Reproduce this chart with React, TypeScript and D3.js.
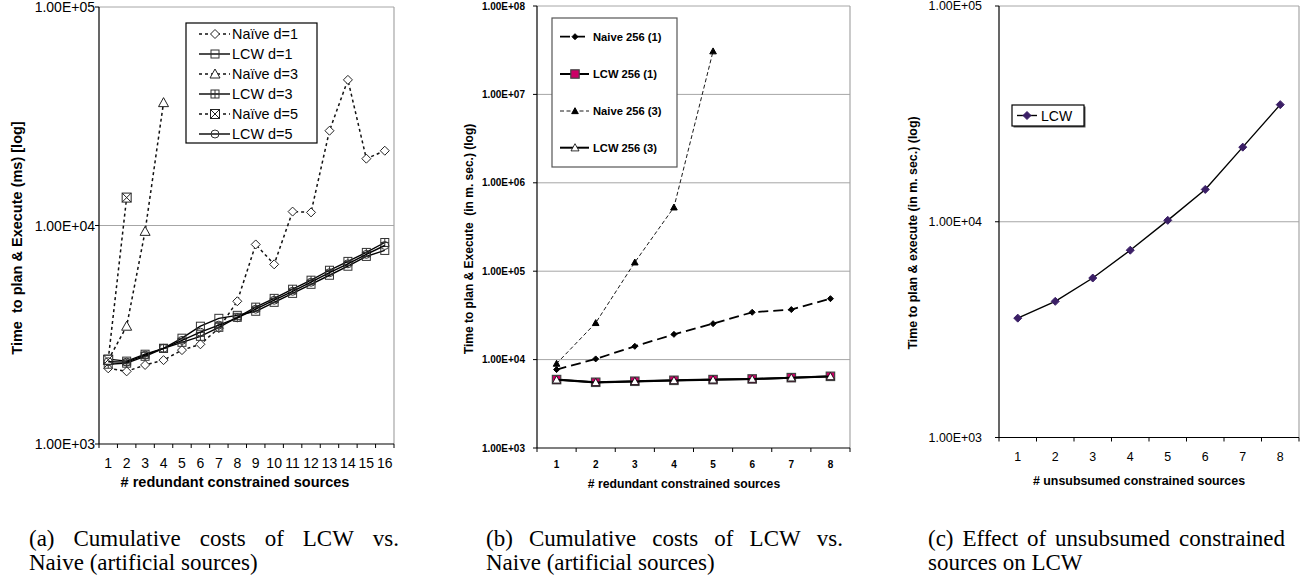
import React, { useLayoutEffect, useRef } from "react";
import * as d3 from "d3";

// ---------- data ----------
const catsA = [1, 2, 3, 4, 5, 6, 7, 8, 9, 10, 11, 12, 13, 14, 15, 16];
const naiveD1 = [2220, 2150, 2300, 2420, 2690, 2860, 3390, 4500, 8190, 6640, 11580, 11480, 27150, 46400, 20220, 21990];
const naiveD3 = [2420, 3460, 9400, 36500];
const naiveD5 = [2430, 13420];
const lcwD1 = [2445, 2395, 2576, 2740, 3050, 3460, 3760, 3880, 4050, 4450, 4890, 5380, 5920, 6510, 7220, 7690];
const lcwD3 = [2318, 2344, 2520, 2740, 2920, 3110, 3420, 3800, 4230, 4640, 5110, 5620, 6240, 6850, 7530, 8360];
const lcwD5 = [2380, 2370, 2550, 2740, 2980, 3250, 3500, 3780, 4140, 4550, 5000, 5500, 6080, 6680, 7380, 8100];

const catsB = [1, 2, 3, 4, 5, 6, 7, 8];
const naive256_1 = [7710, 10180, 14130, 19300, 25500, 34300, 36800, 48900];
const naive256_3 = [9010, 26000, 126000, 528000, 30800000];
const lcw256_1 = [5940, 5540, 5690, 5830, 5940, 6040, 6250, 6470];
const lcw256_3 = [5900, 5520, 5670, 5810, 5920, 6020, 6230, 6450];

const catsC = [1, 2, 3, 4, 5, 6, 7, 8];
const lcwC = [3575, 4277, 5485, 7380, 10150, 14120, 22170, 34900];

const ticksA = [1e3, 1e4, 1e5];
const ticksB = [1e3, 1e4, 1e5, 1e6, 1e7, 1e8];
const ticksC = [1e3, 1e4, 1e5];

const legendA = ["Naïve d=1", "LCW d=1", "Naïve d=3", "LCW d=3", "Naïve d=5", "LCW d=5"];
const legendB = ["Naive 256 (1)", "LCW 256 (1)", "Naive 256 (3)", "LCW 256 (3)"];
const legendC = ["LCW"];

const SANS = "'Liberation Sans', Arial, Helvetica, sans-serif";
const SERIF = "'Liberation Serif', 'Times New Roman', Times, serif";
const GRID = "#a6a6a6";
const MAGENTA = "#cc0066";
const PURPLE = "#3b1f66";

const fmtE = (v: number) => {
  const e = Math.round(Math.log10(v));
  return "1.00E+" + String(e).padStart(2, "0");
};

type MType = "diamond" | "square" | "squarePlus" | "squareX" | "circle" | "triangle";

function Marker({ t, cx, cy, s, fill, stroke, sw = 1 }: { t: MType; cx: number; cy: number; s: number; fill: string; stroke: string; sw?: number }) {
  if (t === "diamond")
    return <path d={`M${cx},${cy - s}L${cx + s},${cy}L${cx},${cy + s}L${cx - s},${cy}Z`} fill={fill} stroke={stroke} strokeWidth={sw} />;
  if (t === "circle") return <circle cx={cx} cy={cy} r={s} fill={fill} stroke={stroke} strokeWidth={sw} />;
  if (t === "triangle")
    return <path d={`M${cx},${cy - s}L${cx + s},${cy + s * 0.8}L${cx - s},${cy + s * 0.8}Z`} fill={fill} stroke={stroke} strokeWidth={sw} />;
  const r = <rect x={cx - s} y={cy - s} width={2 * s} height={2 * s} fill={fill} stroke={stroke} strokeWidth={sw} />;
  if (t === "square") return r;
  if (t === "squarePlus")
    return (
      <g>
        {r}
        <path d={`M${cx - s},${cy}H${cx + s}M${cx},${cy - s}V${cy + s}`} stroke={stroke} strokeWidth={sw} />
      </g>
    );
  return (
    <g>
      {r}
      <path d={`M${cx - s},${cy - s}L${cx + s},${cy + s}M${cx + s},${cy - s}L${cx - s},${cy + s}`} stroke={stroke} strokeWidth={sw} />
    </g>
  );
}

function Justified({ words, x0, x1, y, style }: { words: string[]; x0: number; x1: number; y: number; style: any }) {
  const ref = useRef<SVGGElement>(null);
  useLayoutEffect(() => {
    const g = ref.current;
    if (!g) return;
    const texts = Array.from(g.querySelectorAll("text")) as SVGTextElement[];
    const widths = texts.map((t) => t.getComputedTextLength());
    const total = widths.reduce((a, b) => a + b, 0);
    const gap = (x1 - x0 - total) / Math.max(1, texts.length - 1);
    let x = x0;
    texts.forEach((t, i) => {
      t.setAttribute("x", String(x));
      x += widths[i] + gap;
    });
  }, []);
  return (
    <g ref={ref}>
      {words.map((w, i) => (
        <text key={i} x={x0} y={y} style={style}>
          {w}
        </text>
      ))}
    </g>
  );
}

type Series = { values: number[]; marker: MType; ms: number; mfill: string; mstroke: string; msw?: number; dash?: string; lw: number; lcolor: string };

function Panel(props: {
  L: number; R: number; T: number; B: number; cats: number[]; ymax: number; ticks: number[];
  series: Series[]; tickFont: any; tickRight: number; xLabelY: number; yTickLen: number;
  gridAll: boolean;
}) {
  const { L, R, T, B, cats, ymax, ticks, series, tickFont, tickRight, xLabelY, yTickLen } = props;
  const x = d3.scaleBand<number>().domain(cats).range([L, R]).padding(0);
  const y = d3.scaleLog().domain([1e3, ymax]).range([B, T]);
  const cx = (c: number) => (x(c) as number) + x.bandwidth() / 2;
  const bounds = cats.map((c) => x(c) as number).concat([R]);
  return (
    <g>
      {ticks.filter((t) => t > 1e3).map((t) => (
        <line key={"g" + t} x1={L} x2={R} y1={y(t)} y2={y(t)} stroke={GRID} strokeWidth={1} />
      ))}
      <line x1={R} x2={R} y1={T} y2={B} stroke={GRID} strokeWidth={1.2} />
      <line x1={L} x2={L} y1={T} y2={B} stroke="#000" strokeWidth={1.2} />
      <line x1={L} x2={R} y1={B} y2={B} stroke="#000" strokeWidth={1.2} />
      {ticks.map((t) => (
        <g key={"t" + t}>
          <line x1={L - yTickLen} x2={L} y1={y(t)} y2={y(t)} stroke="#000" />
          <text x={tickRight} y={y(t)} textAnchor="end" dominantBaseline="central" style={tickFont}>
            {fmtE(t)}
          </text>
        </g>
      ))}
      {bounds.map((b, i) => (
        <line key={"xt" + i} x1={b} x2={b} y1={B} y2={B + 4} stroke="#000" />
      ))}
      {cats.map((c) => (
        <text key={"xl" + c} x={cx(c)} y={xLabelY} textAnchor="middle" dominantBaseline="central" style={tickFont}>
          {c}
        </text>
      ))}
      {series.map((s, i) => {
        const line = d3
          .line<number>()
          .x((_, j) => cx(cats[j]))
          .y((v) => y(v));
        return (
          <g key={"s" + i}>
            <path d={line(s.values) || ""} fill="none" stroke={s.lcolor} strokeWidth={s.lw} strokeDasharray={s.dash} />
            {s.values.map((v, j) => (
              <Marker key={j} t={s.marker} cx={cx(cats[j])} cy={y(v)} s={s.ms} fill={s.mfill} stroke={s.mstroke} sw={s.msw} />
            ))}
          </g>
        );
      })}
    </g>
  );
}

function Legend(props: { x0: number; x1: number; y0: number; y1: number; rows: number[]; labels: string[]; series: Series[]; sx0: number; sx1: number; mx: number; tx: number; font: any; boxStroke: string; shadow?: boolean }) {
  const { x0, x1, y0, y1, rows, labels, series, sx0, sx1, mx, tx, font, boxStroke, shadow } = props;
  return (
    <g>
      {shadow && <rect x={x0 + 1.5} y={y0 + 1.5} width={x1 - x0} height={y1 - y0} fill="#555" />}
      <rect x={x0} y={y0} width={x1 - x0} height={y1 - y0} fill="#fff" stroke={boxStroke} strokeWidth={1.2} />
      {labels.map((l, i) => {
        const s = series[i];
        return (
          <g key={i}>
            <line x1={sx0} x2={sx1} y1={rows[i]} y2={rows[i]} stroke={s.lcolor} strokeWidth={s.lw} strokeDasharray={s.dash} />
            <Marker t={s.marker} cx={mx} cy={rows[i]} s={s.ms} fill={s.mfill} stroke={s.mstroke} sw={s.msw} />
            <text x={tx} y={rows[i]} dominantBaseline="central" style={font}>
              {l}
            </text>
          </g>
        );
      })}
    </g>
  );
}

export default function App() {
  const dotted = "3,3";
  const seriesA: Series[] = [
    { values: naiveD1, marker: "diamond", ms: 4.5, mfill: "#fff", mstroke: "#222", dash: dotted, lw: 1.5, lcolor: "#111" },
    { values: lcwD1, marker: "square", ms: 4, mfill: "none", mstroke: "#333", lw: 1.4, lcolor: "#000" },
    { values: naiveD3, marker: "triangle", ms: 5, mfill: "#fff", mstroke: "#222", dash: dotted, lw: 1.5, lcolor: "#111" },
    { values: lcwD3, marker: "squarePlus", ms: 4, mfill: "none", mstroke: "#333", lw: 1.4, lcolor: "#000" },
    { values: naiveD5, marker: "squareX", ms: 4.5, mfill: "#fff", mstroke: "#222", dash: dotted, lw: 1.5, lcolor: "#111" },
    { values: lcwD5, marker: "circle", ms: 4, mfill: "none", mstroke: "#333", lw: 1.4, lcolor: "#000" },
  ];
  const seriesB: Series[] = [
    { values: naive256_1, marker: "diamond", ms: 3, mfill: "#000", mstroke: "#000", dash: "10,5", lw: 1.8, lcolor: "#000" },
    { values: lcw256_1, marker: "square", ms: 4.2, mfill: MAGENTA, mstroke: "#444", msw: 1.2, lw: 2, lcolor: "#000" },
    { values: naive256_3, marker: "triangle", ms: 3.3, mfill: "#000", mstroke: "#000", dash: "4,2.5", lw: 0.9, lcolor: "#000" },
    { values: lcw256_3, marker: "triangle", ms: 4, mfill: "#fff", mstroke: "#000", msw: 0.8, lw: 2, lcolor: "#000" },
  ];
  const seriesC: Series[] = [
    { values: lcwC, marker: "diamond", ms: 4, mfill: PURPLE, mstroke: PURPLE, lw: 1.4, lcolor: "#000" },
  ];

  const fA = { fontFamily: SANS, fontSize: "14px", fill: "#000" };
  const fB = { fontFamily: SANS, fontSize: "10px", fontWeight: "bold", fill: "#000" };
  const fC = { fontFamily: SANS, fontSize: "12.4px", fill: "#000" };
  const cap = { fontFamily: SERIF, fontSize: "23px", fill: "#000" };

  return (
    <svg width={1304} height={577} style={{ position: "absolute", left: 0, top: 0, background: "#fff" }}>
      <rect x={0} y={0} width={1304} height={577} fill="#fff" />
      {/* Panel A */}
      <Panel L={99} R={394} T={7} B={444} cats={catsA} ymax={1e5} ticks={ticksA} series={seriesA} tickFont={fA} tickRight={95} xLabelY={463} yTickLen={4} gridAll={false} />
      <Legend x0={186} x1={317} y0={23} y1={143} rows={[34, 54, 74, 94, 114, 134]} labels={legendA} series={seriesA} sx0={199} sx1={230} mx={215} tx={232} font={{ fontFamily: SANS, fontSize: "14.4px", fill: "#000" }} boxStroke="#000" />
      <text transform="translate(17,238) rotate(-90)" textAnchor="middle" dominantBaseline="central" style={{ fontFamily: SANS, fontSize: "14.5px", fontWeight: "bold", whiteSpace: "pre" }}>
        {"Time  to plan & Execute (ms) [log]"}
      </text>
      <text x={235} y={482} textAnchor="middle" dominantBaseline="central" style={{ fontFamily: SANS, fontSize: "14.5px", fontWeight: "bold" }}>
        # redundant constrained sources
      </text>

      {/* Panel B */}
      <Panel L={537} R={850} T={6} B={448} cats={catsB} ymax={1e8} ticks={ticksB} series={seriesB} tickFont={fB} tickRight={525} xLabelY={464} yTickLen={4} gridAll={true} />
      <Legend x0={552} x1={677} y0={18} y1={167} rows={[36.7, 74, 111, 147.7]} labels={legendB} series={seriesB} sx0={560} sx1={589} mx={575} tx={593} font={{ fontFamily: SANS, fontSize: "11.2px", fontWeight: "bold", fill: "#000" }} boxStroke="#555" />
      <text transform="translate(469,239) rotate(-90)" textAnchor="middle" dominantBaseline="central" style={{ fontFamily: SANS, fontSize: "12px", fontWeight: "bold", whiteSpace: "pre" }}>
        {"Time to plan & Execute  (in m. sec.) (log)"}
      </text>
      <text x={684} y={484} textAnchor="middle" dominantBaseline="central" style={{ fontFamily: SANS, fontSize: "12.2px", fontWeight: "bold" }}>
        # redundant constrained sources
      </text>

      {/* Panel C */}
      <Panel L={999} R={1299} T={6} B={437.5} cats={catsC} ymax={1e5} ticks={ticksC} series={seriesC} tickFont={fC} tickRight={982} xLabelY={457} yTickLen={4} gridAll={false} />
      <Legend x0={1012} x1={1084} y0={105} y1={126} rows={[115.5]} labels={legendC} series={seriesC} sx0={1017} sx1={1037} mx={1027} tx={1041} font={{ fontFamily: SANS, fontSize: "14px", fill: "#000" }} boxStroke="#000" shadow />
      <text transform="translate(913,233) rotate(-90)" textAnchor="middle" dominantBaseline="central" style={{ fontFamily: SANS, fontSize: "12.4px", fontWeight: "bold", whiteSpace: "pre" }}>
        {"Time to plan & execute (in m. sec.) (log)"}
      </text>
      <text x={1139} y={481} textAnchor="middle" dominantBaseline="central" style={{ fontFamily: SANS, fontSize: "12.4px", fontWeight: "bold" }}>
        # unsubsumed constrained sources
      </text>

      {/* Captions */}
      <Justified words={["(a)", "Cumulative", "costs", "of", "LCW", "vs."]} x0={29} x1={399} y={546} style={cap} />
      <text x={29} y={570} style={cap}>Naive (artificial sources)</text>
      <Justified words={["(b)", "Cumulative", "costs", "of", "LCW", "vs."]} x0={486} x1={843} y={546} style={cap} />
      <text x={486} y={570} style={cap}>Naive (artificial sources)</text>
      <Justified words={["(c)", "Effect", "of", "unsubsumed", "constrained"]} x0={928} x1={1285} y={546} style={cap} />
      <text x={928} y={570} style={cap}>sources on LCW</text>
    </svg>
  );
}
